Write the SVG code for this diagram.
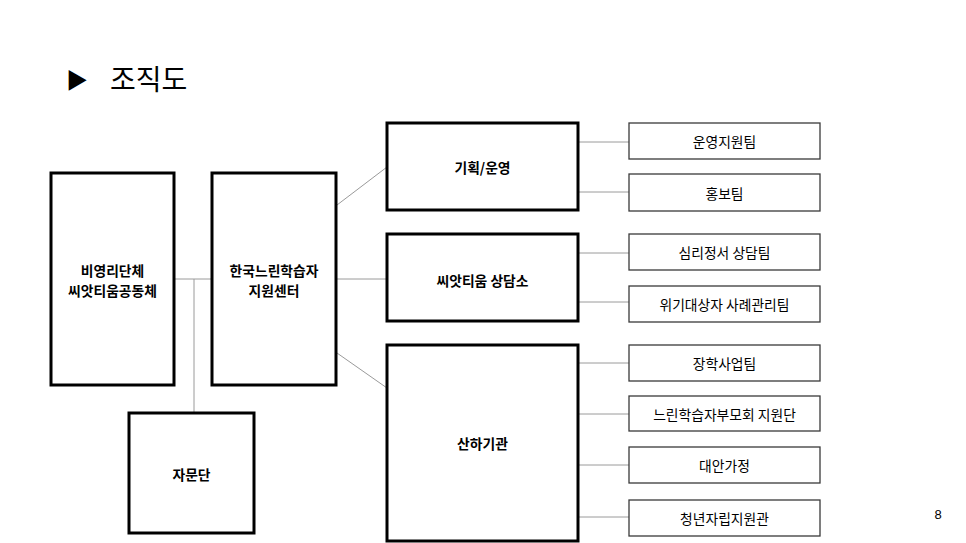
<svg xmlns="http://www.w3.org/2000/svg" width="966" height="543" viewBox="0 0 966 543">
<style>
text{font-family:"Noto Sans CJK KR","Noto Sans",sans-serif;fill:#000;text-anchor:middle;dominant-baseline:central}
.big{fill:#fff;stroke:#000;stroke-width:3}
.small{fill:#fff;stroke:#3a3a3a;stroke-width:1.3}
.bl{font-size:13.8px;font-weight:bold}
.sl{font-size:13.8px}
.conn line{stroke:#9a9a9a;stroke-width:1}
</style>
<rect width="966" height="543" fill="#fff"/>
<g id="title">
<text x="66" y="78" style="text-anchor:start;font-size:22px">▶</text>
<text x="110" y="78" style="text-anchor:start;font-size:28px">조직도</text>
</g>
<g class="conn" id="connectors">
<line x1="174" y1="279" x2="212" y2="279"/>
<line x1="194" y1="279" x2="194" y2="413"/>
<line x1="337" y1="205" x2="387" y2="167"/>
<line x1="337" y1="279" x2="387" y2="279"/>
<line x1="337" y1="353" x2="387" y2="388"/>
<line x1="578" y1="142" x2="629" y2="142"/>
<line x1="578" y1="192" x2="629" y2="192"/>
<line x1="578" y1="253" x2="629" y2="253"/>
<line x1="578" y1="302" x2="629" y2="302"/>
<line x1="578" y1="363" x2="629" y2="363"/>
<line x1="578" y1="414" x2="629" y2="414"/>
<line x1="578" y1="465" x2="629" y2="465"/>
<line x1="578" y1="517" x2="629" y2="517"/>
</g>
<g id="n-nonprofit">
<rect class="big" x="51" y="173" width="123" height="212"/>
<text class="bl" x="112.5" y="269.5">비영리단체</text>
<text class="bl" x="112.5" y="289.5">씨앗티움공동체</text>
</g>
<g id="n-center">
<rect class="big" x="212" y="173" width="124" height="212"/>
<text class="bl" x="274" y="269.5">한국느린학습자</text>
<text class="bl" x="274" y="289.5">지원센터</text>
</g>
<g id="n-advisory">
<rect class="big" x="129" y="413" width="125" height="120"/>
<text class="bl" x="191.5" y="474">자문단</text>
</g>
<g id="n-planning">
<rect class="big" x="387" y="123" width="191" height="87"/>
<text class="bl" x="482.5" y="166.5">기획/운영</text>
</g>
<g id="n-counsel">
<rect class="big" x="387" y="234" width="191" height="87"/>
<text class="bl" x="482.5" y="280">씨앗티움 상담소</text>
</g>
<g id="n-affiliates">
<rect class="big" x="387" y="345" width="191" height="196"/>
<text class="bl" x="482.5" y="443">산하기관</text>
</g>
<g id="t-ops">
<rect class="small" x="629" y="123" width="191" height="36"/>
<text class="sl" x="724.5" y="141">운영지원팀</text>
</g>
<g id="t-pr">
<rect class="small" x="629" y="174" width="191" height="37"/>
<text class="sl" x="724.5" y="192.5">홍보팀</text>
</g>
<g id="t-psy">
<rect class="small" x="629" y="234" width="191" height="36"/>
<text class="sl" x="724.5" y="252">심리정서 상담팀</text>
</g>
<g id="t-crisis">
<rect class="small" x="629" y="286" width="191" height="36"/>
<text class="sl" x="724.5" y="304">위기대상자 사례관리팀</text>
</g>
<g id="t-scholar">
<rect class="small" x="629" y="345" width="191" height="36"/>
<text class="sl" x="724.5" y="363">장학사업팀</text>
</g>
<g id="t-parents">
<rect class="small" x="629" y="396" width="191" height="35"/>
<text class="sl" x="724.5" y="413.5">느린학습자부모회 지원단</text>
</g>
<g id="t-alt">
<rect class="small" x="629" y="447" width="191" height="36"/>
<text class="sl" x="724.5" y="465">대안가정</text>
</g>
<g id="t-youth">
<rect class="small" x="629" y="500" width="191" height="36"/>
<text class="sl" x="724.5" y="518">청년자립지원관</text>
</g>
<text x="938" y="514" style="font-size:13px;font-family:'Liberation Sans',sans-serif">8</text>
</svg>
